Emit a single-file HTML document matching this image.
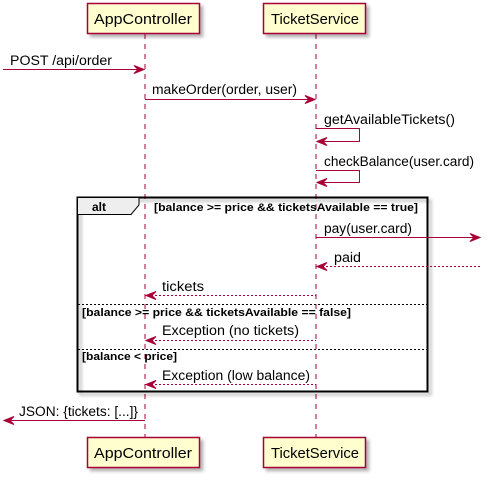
<!DOCTYPE html>
<html><head><meta charset="utf-8"><style>
html,body{margin:0;padding:0;background:#fff;}
svg{display:block;}
text{font-family:"Liberation Sans",sans-serif;}
</style></head><body>
<svg width="491" height="478" viewBox="0 0 491 478" xmlns="http://www.w3.org/2000/svg">
<defs>
<filter id="sh" x="-10%" y="-10%" width="130%" height="140%"><feDropShadow dx="3" dy="3" stdDeviation="1.5" flood-color="#000" flood-opacity="0.3"/></filter>
</defs>
<line x1="145" y1="34" x2="145" y2="438" stroke="#A80036" stroke-dasharray="5,5"/>
<line x1="316" y1="34" x2="316" y2="438" stroke="#A80036" stroke-dasharray="5,5"/>
<g filter="url(#sh)">
<rect x="87.5" y="3.5" width="112" height="30" fill="#FEFECE" stroke="#A80036" stroke-width="1.5"/>
<rect x="263.5" y="3.5" width="102" height="30" fill="#FEFECE" stroke="#A80036" stroke-width="1.5"/>
<rect x="87.5" y="437.5" width="112" height="30" fill="#FEFECE" stroke="#A80036" stroke-width="1.5"/>
<rect x="263.5" y="437.5" width="102" height="30" fill="#FEFECE" stroke="#A80036" stroke-width="1.5"/>
</g>
<g font-size="15" fill="#000">
<text x="94" y="24" textLength="98" lengthAdjust="spacingAndGlyphs">AppController</text>
<text x="271" y="24" textLength="88" lengthAdjust="spacingAndGlyphs">TicketService</text>
<text x="94" y="458" textLength="98" lengthAdjust="spacingAndGlyphs">AppController</text>
<text x="271" y="458" textLength="88" lengthAdjust="spacingAndGlyphs">TicketService</text>
</g>
<rect x="77.5" y="197.5" width="350" height="194" fill="none" stroke="#000" stroke-width="2" filter="url(#sh)"/>
<path d="M77.5 197.5 H139 V205 L131 214.5 H77.5 Z" fill="#EEEEEE" stroke="#000" stroke-width="1"/>
<text x="92" y="211" font-size="12" font-weight="bold">alt</text>
<text x="154" y="211" font-size="11" font-weight="bold" textLength="264" lengthAdjust="spacingAndGlyphs">[balance &gt;= price &amp;&amp; ticketsAvailable == true]</text>
<line x1="78" y1="304.5" x2="427" y2="304.5" stroke="#000" stroke-dasharray="2,2"/>
<text x="82" y="316" font-size="11" font-weight="bold" textLength="269" lengthAdjust="spacingAndGlyphs">[balance &gt;= price &amp;&amp; ticketsAvailable == false]</text>
<line x1="78" y1="349.5" x2="427" y2="349.5" stroke="#000" stroke-dasharray="2,2"/>
<text x="82" y="360" font-size="11" font-weight="bold" textLength="95" lengthAdjust="spacingAndGlyphs">[balance &lt; price]</text>
<g stroke="#A80036" fill="none">
<line x1="3" y1="69.5" x2="143" y2="69.5"/>
<line x1="145" y1="99.5" x2="314" y2="99.5"/>
<polyline points="316,128.5 359.5,128.5 359.5,141.5 318,141.5"/>
<polyline points="316,170.5 359.5,170.5 359.5,182.5 318,182.5"/>
<line x1="316" y1="237.5" x2="478" y2="237.5"/>
<line x1="318" y1="266.5" x2="480" y2="266.5" stroke-dasharray="2,2"/>
<line x1="147" y1="295.5" x2="316" y2="295.5" stroke-dasharray="2,2"/>
<line x1="147" y1="340.5" x2="316" y2="340.5" stroke-dasharray="2,2"/>
<line x1="147" y1="384.5" x2="316" y2="384.5" stroke-dasharray="2,2"/>
<line x1="5" y1="420.5" x2="145" y2="420.5"/>
</g>
<g fill="#A80036" stroke="#A80036">
<path d="M144,69.5 L134,65.5 L138,69.5 L134,73.5 Z"/>
<path d="M315,99.5 L305,95.5 L309,99.5 L305,103.5 Z"/>
<path d="M317,141.5 L327,137.5 L323,141.5 L327,145.5 Z"/>
<path d="M317,182.5 L327,178.5 L323,182.5 L327,186.5 Z"/>
<path d="M480,237.5 L470,233.5 L474,237.5 L470,241.5 Z"/>
<path d="M317,266.5 L327,262.5 L323,266.5 L327,270.5 Z"/>
<path d="M146,295.5 L156,291.5 L152,295.5 L156,299.5 Z"/>
<path d="M146,340.5 L156,336.5 L152,340.5 L156,344.5 Z"/>
<path d="M146,384.5 L156,380.5 L152,384.5 L156,388.5 Z"/>
<path d="M4,420.5 L14,416.5 L10,420.5 L14,424.5 Z"/>
</g>
<g font-size="13.5" fill="#000">
<text x="10" y="65" textLength="102" lengthAdjust="spacingAndGlyphs">POST /api/order</text>
<text x="152" y="94" textLength="145" lengthAdjust="spacingAndGlyphs">makeOrder(order, user)</text>
<text x="324" y="124" textLength="131" lengthAdjust="spacingAndGlyphs">getAvailableTickets()</text>
<text x="324" y="166" textLength="150" lengthAdjust="spacingAndGlyphs">checkBalance(user.card)</text>
<text x="324" y="233" textLength="88" lengthAdjust="spacingAndGlyphs">pay(user.card)</text>
<text x="334" y="262" textLength="27" lengthAdjust="spacingAndGlyphs">paid</text>
<text x="162" y="291" textLength="42" lengthAdjust="spacingAndGlyphs">tickets</text>
<text x="162" y="335" textLength="137" lengthAdjust="spacingAndGlyphs">Exception (no tickets)</text>
<text x="162" y="380" textLength="148" lengthAdjust="spacingAndGlyphs">Exception (low balance)</text>
<text x="19" y="416" textLength="119" lengthAdjust="spacingAndGlyphs">JSON: {tickets: [...]}</text>
</g>
</svg>
</body></html>
